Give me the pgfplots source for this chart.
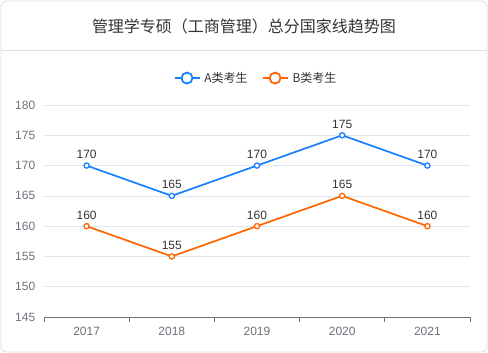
\documentclass[border=0pt]{standalone}
\usepackage{pgfplots}
\pgfplotsset{compat=1.18}
\usepackage{fontspec}
\setmainfont{Liberation Sans}
\newfontfamily\cjk{Noto Sans CJK SC}
\definecolor{cA}{RGB}{24,128,255}
\definecolor{cB}{RGB}{255,102,0}
\definecolor{gridc}{RGB}{224,230,241}
\definecolor{axc}{RGB}{110,112,121}
\definecolor{txt}{RGB}{51,51,51}
\begin{document}
\begin{tikzpicture}[x=1pt,y=1pt]
\path (0,0) rectangle (488,353);
\draw[color={rgb,255:red,221;green,221;blue,221}, line width=0.8pt, rounded corners=6pt] (1,1) rectangle (487,352);
\draw[color={rgb,255:red,221;green,221;blue,221}, line width=0.8pt] (1,303) -- (487,303);
\node[font=\cjk\fontsize{16}{19}\selectfont, text=txt] at (244,327) {管理学专硕（工商管理）总分国家线趋势图};
\begin{axis}[
  at={(44pt,36pt)}, anchor=south west,
  scale only axis, width=426pt, height=212pt,
  xmin=-0.5, xmax=4.5, ymin=145, ymax=180,
  xtick={0,1,2,3,4}, xticklabels={2017,2018,2019,2020,2021},
  major x tick style={draw=none},
  minor xtick={-0.5,0.5,1.5,2.5,3.5,4.5},
  minor x tick style={axc, line width=0.8pt},
  minor tick length=5pt,
  tick align=outside,
  ytick={145,150,...,180},
  major y tick style={draw=none},
  ymajorgrids, grid style={gridc, line width=0.7pt},
  axis x line*=bottom, axis y line*=left,
  x axis line style={axc, line width=0.8pt, -},
  y axis line style={draw=none},
  ticklabel style={font=\fontsize{12}{14}\selectfont, text=axc},
  /pgf/number format/assume math mode=true,
  /pgf/number format/1000 sep={},
  yticklabel style={xshift=-1pt},
  xticklabel style={yshift=-2pt},
  clip=false,
  nodes near coords,
  every node near coord/.append style={font=\fontsize{12}{14}\selectfont, text=txt, yshift=3pt},
  legend columns=2,
  legend style={at={(0.5,1.127)}, anchor=center, draw=none, fill=none,
    font=\cjk\fontsize{12}{14}\selectfont, text=txt,
    nodes={inner xsep=4pt},
    /tikz/every even column/.append style={column sep=10pt}},
  legend image code/.code={
    \draw[#1, mark=none, line width=1.8pt] (0pt,0pt) -- (25pt,0pt);
    \draw[#1, mark=none, fill=white, line width=1.8pt] (12.5pt,0pt) circle (5.5pt);
  },
]
\addplot[cA, line width=1.7pt, mark=*, mark size=2.6pt, mark options={fill=white, line width=1.3pt}]
  coordinates {(0,170) (1,165) (2,170) (3,175) (4,170)};
\addlegendentry{A类考生}
\addplot[cB, line width=1.7pt, mark=*, mark size=2.6pt, mark options={fill=white, line width=1.3pt}]
  coordinates {(0,160) (1,155) (2,160) (3,165) (4,160)};
\addlegendentry{B类考生}
\end{axis}
\end{tikzpicture}
\end{document}
